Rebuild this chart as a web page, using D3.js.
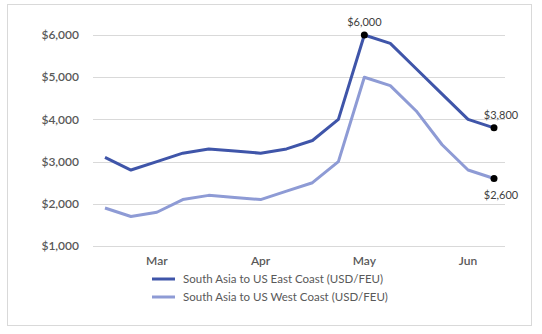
<!DOCTYPE html>
<html><head><meta charset="utf-8">
<script src="https://cdn.jsdelivr.net/npm/d3@7"></script>
<style>body{margin:0;background:#fff;} svg{display:block;font-family:Lato, "Open Sans", sans-serif;}</style>
</head><body>
<svg id="c" width="542" height="334"></svg>
<script>
const seriesNames = ["South Asia to US East Coast (USD/FEU)", "South Asia to US West Coast (USD/FEU)"];
const eastValues = [3100, 2800, 3000, 3200, 3300, 3250, 3200, 3300, 3500, 4000, 6000, 5800, 5200, 4600, 4000, 3800];
const westValues = [1900, 1700, 1800, 2100, 2200, 2150, 2100, 2300, 2500, 3000, 5000, 4800, 4200, 3400, 2800, 2600];
const monthLabels = ["Mar", "Apr", "May", "Jun"];
const monthIndex = [2, 6, 10, 14];
const yTicks = [1000, 2000, 3000, 4000, 5000, 6000];
const annotations = [
  {series: 0, index: 10, text: "$6,000", pos: "above"},
  {series: 0, index: 15, text: "$3,800", pos: "above"},
  {series: 1, index: 15, text: "$2,600", pos: "below"}
];
const colors = ["#3F55A9", "#8E9BD5"];

const svg = d3.select("#c");
svg.append("rect").attr("x", 7.5).attr("y", 4.5).attr("width", 524).attr("height", 321)
  .attr("fill", "#fff").attr("stroke", "#d9d9d9").attr("stroke-width", 1);

const x = d3.scaleLinear().domain([0, eastValues.length - 1]).range([105, 494]);
const y = d3.scaleLinear().domain([1000, 6000]).range([246, 35]);

// grid
svg.append("g").selectAll("line").data(yTicks).join("line")
  .attr("x1", 93).attr("x2", 505)
  .attr("y1", d => Math.round(y(d)) + 0.5).attr("y2", d => Math.round(y(d)) + 0.5)
  .attr("stroke", "#d9d9d9").attr("stroke-width", 1);

// y labels
const fmt = d => "$" + d3.format(",")(d);
svg.append("g").selectAll("text").data(yTicks).join("text")
  .attr("x", 79).attr("y", d => y(d)).attr("dy", "0.35em")
  .attr("text-anchor", "end").attr("font-size", 12).attr("font-weight", 600).attr("fill", "#595959")
  .text(fmt);

// x labels
svg.append("g").selectAll("text").data(monthLabels).join("text")
  .attr("x", (d, i) => x(monthIndex[i])).attr("y", 261).attr("dy", "0.35em")
  .attr("text-anchor", "middle").attr("font-size", 12).attr("font-weight", 600).attr("fill", "#595959")
  .text(d => d);

const line = d3.line().x((d, i) => x(i)).y(d => y(d));
[westValues, eastValues].forEach((vals, k) => {
  const ci = k === 0 ? 1 : 0;
  svg.append("path").datum(vals).attr("d", line)
    .attr("fill", "none").attr("stroke", colors[ci]).attr("stroke-width", 3)
    .attr("stroke-linejoin", "round").attr("stroke-linecap", "butt");
});

const allSeries = [eastValues, westValues];
annotations.forEach(a => {
  const px = x(a.index), py = y(allSeries[a.series][a.index]);
  svg.append("circle").attr("cx", px).attr("cy", py).attr("r", 3.5).attr("fill", "#000");
  const tx = a.index === 15 ? px + 7 : px;
  svg.append("text").attr("x", tx).attr("y", a.pos === "above" ? py - 13 : py + 17)
    .attr("dy", "0.35em").attr("text-anchor", "middle").attr("font-size", 11).attr("fill", "#404040")
    .text(a.text);
});

// legend
seriesNames.forEach((n, i) => {
  const ly = 279 + i * 18;
  svg.append("line").attr("x1", 152).attr("x2", 175).attr("y1", ly).attr("y2", ly)
    .attr("stroke", colors[i]).attr("stroke-width", 3);
  svg.append("text").attr("x", 183).attr("y", ly).attr("dy", "0.35em")
    .attr("font-size", 11.5).attr("fill", "#595959").text(n);
});
</script>
</body></html>
